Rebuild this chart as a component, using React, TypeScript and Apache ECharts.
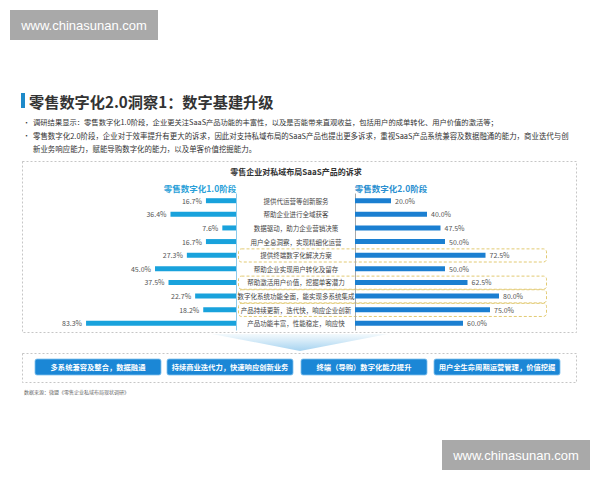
import React, { useEffect, useRef } from "react";
import * as echarts from "echarts";

const categories = [
  "提供代运营等创新服务",
  "帮助企业进行全域获客",
  "数据驱动，助力企业营销决策",
  "用户全息洞察，实现精细化运营",
  "提供终端数字化解决方案",
  "帮助企业实现用户转化及留存",
  "帮助激活用户价值，挖掘单客潜力",
  "数字化系统功能全面，能实现多系统集成",
  "产品持续更新，迭代快，响应企业创新",
  "产品功能丰富，性能稳定，响应快",
];
const stage1Values = [16.7, 36.4, 7.6, 16.7, 27.3, 45.0, 37.5, 22.7, 18.2, 83.3];
const stage2Values = [20.0, 40.0, 47.5, 50.0, 72.5, 50.0, 62.5, 80.0, 75.0, 60.0];
const highlightedRows = [4, 6, 7, 8];
const actionLabels = [
  "多系统兼容及整合，数据融通",
  "持续商业迭代力，快速响应创新业务",
  "终端（导购）数字化能力提升",
  "用户全生命周期运营管理，价值挖掘",
];
const pageTitle = "零售数字化2.0洞察1：数字基建升级";
const chartTitle = "零售企业对私域布局SaaS产品的诉求";
const stage1Title = "零售数字化1.0阶段";
const stage2Title = "零售数字化2.0阶段";
const bulletLines = [
  "调研结果显示：零售数字化1.0阶段，企业更关注SaaS产品功能的丰富性，以及是否能带来直观收益，包括用户的成单转化、用户价值的激活等；",
  "零售数字化2.0阶段，企业对于效率提升有更大的诉求，因此对支持私域布局的SaaS产品也提出更多诉求，重视SaaS产品系统兼容及数据融通的能力，商业迭代与创",
  "新业务响应能力，赋能导购数字化的能力，以及单客价值挖掘能力。",
];
const sourceText = "数据来源：微盟《零售企业私域布局现状调研》";
const watermark = "www.chinasunan.com";

const FONT = '"Noto Sans CJK SC", "Noto Sans", sans-serif';

export default function App() {
  const ref = useRef<HTMLDivElement>(null);
  useEffect(() => {
    if (!ref.current) return;
    const chart = echarts.init(ref.current, null, { renderer: "svg" });
    const gridTop = 193.9;
    const gridHeight = 136.2;
    const band = gridHeight / categories.length;

    const graphics: any[] = [];
    const wm = (x: number, y: number) => {
      graphics.push({ type: "rect", shape: { x, y, width: 148, height: 30 }, style: { fill: "#a9a9a9" } });
      graphics.push({
        type: "text", x: x + 74, y: y + 15,
        style: { text: watermark, fill: "#fff", fontSize: 13, fontFamily: '"Liberation Sans", Arial, sans-serif', align: "center", verticalAlign: "middle" },
      });
    };
    wm(10, 10);
    wm(442, 440);

    graphics.push({ type: "rect", shape: { x: 21, y: 93, width: 4, height: 15 }, style: { fill: "#1e8ac9" } });
    graphics.push({
      type: "text", x: 29, y: 100.5,
      style: { text: pageTitle, fill: "#333", fontSize: 15.2, fontWeight: "bold", fontFamily: FONT, verticalAlign: "middle" },
    });
    const bulletY = [122, 135, 148];
    bulletLines.forEach((line, i) => {
      if (i !== 2) {
        graphics.push({ type: "text", x: 23, y: bulletY[i], style: { text: "•", fill: "#333", fontSize: 7, fontFamily: FONT, verticalAlign: "middle" } });
      }
      graphics.push({
        type: "text", x: 33, y: bulletY[i],
        style: { text: line, fill: "#333", fontSize: i === 0 ? 7.3 : 7.45, fontFamily: FONT, verticalAlign: "middle" },
      });
    });

    graphics.push({ type: "rect", shape: { x: 22.5, y: 161.5, width: 554, height: 171 }, style: { fill: "none", stroke: "#b8b8b8", lineWidth: 0.8, lineDash: [2, 2] } });
    graphics.push({ type: "rect", shape: { x: 22.5, y: 353.5, width: 554, height: 29 }, style: { fill: "none", stroke: "#b8b8b8", lineWidth: 0.8, lineDash: [2, 2] } });

    graphics.push({ type: "text", x: 296, y: 171, style: { text: chartTitle, fill: "#333", fontSize: 8, fontWeight: "bold", fontFamily: FONT, align: "center", verticalAlign: "middle" } });
    graphics.push({ type: "text", x: 200, y: 187.5, style: { text: stage1Title, fill: "#2a9fd8", fontSize: 8.5, fontWeight: "bold", fontFamily: FONT, align: "center", verticalAlign: "middle" } });
    graphics.push({ type: "text", x: 391, y: 188, style: { text: stage2Title, fill: "#2a8fd0", fontSize: 8.5, fontWeight: "bold", fontFamily: FONT, align: "center", verticalAlign: "middle" } });

    highlightedRows.forEach((r) => {
      graphics.push({
        type: "rect", z: 0,
        shape: { x: 238.5, y: gridTop + r * band + 0.5, width: 308, height: band - 0.5, r: 3 },
        style: { fill: "none", stroke: "#dfc463", lineWidth: 0.9, lineDash: [3, 2] },
      });
    });

    graphics.push({
      type: "polygon",
      shape: { points: [[212, 334], [388, 334], [300, 351]] },
      style: {
        fill: new echarts.graphic.LinearGradient(0, 0, 0, 1, [
          { offset: 0, color: "#f4fafd" },
          { offset: 1, color: "#a6d3f0" },
        ]),
      },
    });

    const btnX = [35, 167, 301, 434];
    actionLabels.forEach((label, i) => {
      graphics.push({
        type: "rect",
        shape: { x: btnX[i], y: 359, width: 126, height: 16, r: 2 },
        style: { fill: "#1b87d6", stroke: "#7fc0ee", lineWidth: 0.8 },
      });
      graphics.push({
        type: "text", x: btnX[i] + 63, y: 367,
        style: { text: label, fill: "#fff", fontSize: 7.3, fontWeight: "bold", fontFamily: FONT, align: "center", verticalAlign: "middle" },
      });
    });

    graphics.push({ type: "text", x: 24, y: 391, style: { text: sourceText, fill: "#666", fontSize: 5, fontFamily: FONT, verticalAlign: "middle" } });

    chart.setOption({
      animation: false,
      backgroundColor: "#fff",
      textStyle: { fontFamily: FONT },
      grid: [
        { left: 56, width: 180, top: gridTop, height: gridHeight },
        { left: 355, width: 180, top: gridTop, height: gridHeight },
      ],
      xAxis: [
        { type: "value", gridIndex: 0, min: 0, max: 100, inverse: true, show: false },
        { type: "value", gridIndex: 1, min: 0, max: 100, show: false },
      ],
      yAxis: [
        {
          type: "category", gridIndex: 0, data: categories, inverse: true, position: "right",
          axisLine: { show: true, lineStyle: { color: "#8ccbec", width: 1 } },
          axisTick: { show: false }, axisLabel: { show: false },
        },
        {
          type: "category", gridIndex: 1, data: categories, inverse: true, position: "left",
          axisLine: { show: true, lineStyle: { color: "#a8a8a8", width: 1 } },
          axisTick: { show: false },
          axisLabel: { show: true, align: "center", margin: 59, fontSize: 6.5, color: "#444", fontFamily: FONT },
        },
      ],
      series: [
        {
          type: "bar", xAxisIndex: 0, yAxisIndex: 0, data: stage1Values, barWidth: 5,
          itemStyle: { color: "#19a2dc" },
          label: { show: true, position: "left", distance: 4, fontSize: 7, color: "#555", formatter: (p: any) => p.value.toFixed(1) + "%" },
        },
        {
          type: "bar", xAxisIndex: 1, yAxisIndex: 1, data: stage2Values, barWidth: 5,
          itemStyle: { color: "#1b7fd1" },
          label: { show: true, position: "right", distance: 4, fontSize: 7, color: "#555", formatter: (p: any) => p.value.toFixed(1) + "%" },
        },
      ],
      graphic: graphics,
    });
    return () => chart.dispose();
  }, []);
  return <div ref={ref} style={{ position: "fixed", left: 0, top: 0, width: 600, height: 480 }} />;
}
